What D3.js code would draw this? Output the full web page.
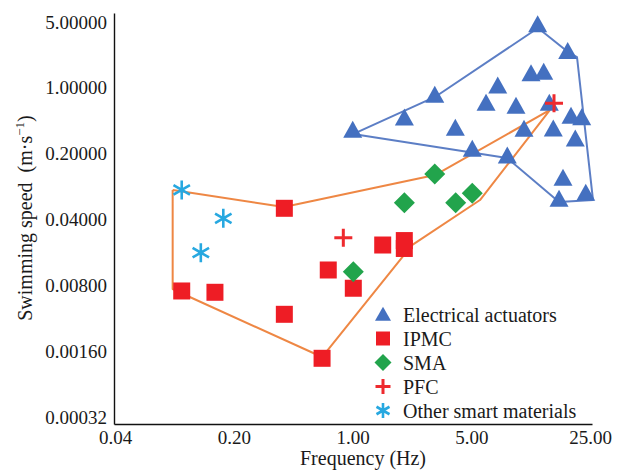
<!DOCTYPE html>
<html><head><meta charset="utf-8">
<script src="https://cdn.jsdelivr.net/npm/d3@7"></script>
<style>
body{margin:0;background:#fff}
svg{display:block}
</style>
</head><body>
<svg id="chart" width="619" height="474"></svg>
<script>
// ---- data ----
const xTicks = [0.04, 0.2, 1, 5, 25];
const xTickLabels = ["0.04", "0.20", "1.00", "5.00", "25.00"];
const yTicks = [5, 1, 0.2, 0.04, 0.008, 0.0016, 0.00032];
const yTickLabels = ["5.00000", "1.00000", "0.20000", "0.04000", "0.00800", "0.00160", "0.00032"];

const seriesNames = ["Electrical actuators", "IPMC", "SMA", "PFC", "Other smart materials"];

const elecFreq  = [12.30, 18.48, 11.24, 13.35, 7.16, 3.05, 6.11, 9.17, 14.40, 2.02, 1.003, 4.03, 10.22, 15.2, 19.33, 22.34, 20.48, 5.07, 8.15, 17.34, 23.6, 16.43];
const elecSpeed = [4.46, 2.33, 1.35, 1.40, 1.00, 0.80, 0.657, 0.611, 0.657, 0.456, 0.340, 0.357, 0.348, 0.35, 0.478, 0.459, 0.273, 0.213, 0.181, 0.105, 0.0728, 0.0629];

const ipmcFreq  = [0.397, 0.0988, 0.155, 0.397, 0.662, 1.506, 2.018, 2.018, 0.720, 1.011];
const ipmcSpeed = [0.0526, 0.00697, 0.00675, 0.00394, 0.001344, 0.02144, 0.0239, 0.0197, 0.01164, 0.00745];

const smaFreq  = [1.011, 3.05, 2.02, 4.05, 5.07];
const smaSpeed = [0.01117, 0.1217, 0.0603, 0.0603, 0.0759];

const pfcFreq  = [15.35, 0.883];
const pfcSpeed = [0.685, 0.0256];

const otherFreq  = [0.0988, 0.1736, 0.128];
const otherSpeed = [0.0823, 0.0412, 0.01776];

// envelope outlines
const blueHullFreq  = [1.007, 3.06, 12.36, 18.56, 20.96, 26.04, 16.43, 8.12, 1.007];
const blueHullSpeed = [0.323, 0.80, 4.32, 2.40, 2.125, 0.0644, 0.0614, 0.180, 0.323];

const orangeHullFreq  = [0.0874, 0.395, 3.06, 14.54, 5.63, 2.24, 0.662, 0.0978, 0.0874, 0.0874];
const orangeHullSpeed = [0.0823, 0.0543, 0.1187, 0.582, 0.0644, 0.0214, 0.001387, 0.00663, 0.00731, 0.0823];

// ---- scales ----
const xBase = d3.scaleLog().domain([0.04, 25]).range([115, 590]);
const x = xBase.copy().domain([xBase.invert(114), xBase.invert(592)]).range([114, 592]);
const yBase = d3.scaleLog().domain([0.00032, 5]).range([417, 22]);
const y = yBase.copy().domain([yBase.invert(424), yBase.invert(13)]).range([424, 13]);

const FONT = "'Liberation Serif', Tinos, 'Times New Roman', Times, 'DejaVu Serif', serif";
const svg = d3.select("#chart");

const C = {
  blue: "#4470c0", red: "#ee1d25", green: "#22a44c", pfc: "#ee2a2e",
  cyan: "#27a8e0", orange: "#ec7a30", blueLine: "#4a70bf"
};

// ---- envelope lines ----
const line = d3.line().x(d => x(d[0])).y(d => y(d[1]));
svg.append("path")
  .attr("d", line(blueHullFreq.map((f, i) => [f, blueHullSpeed[i]])))
  .attr("fill", "none").attr("stroke", C.blueLine).attr("stroke-width", 2).attr("stroke-opacity", 0.9)
  .attr("stroke-linejoin", "round");
svg.append("path")
  .attr("d", line(orangeHullFreq.map((f, i) => [f, orangeHullSpeed[i]])))
  .attr("fill", "none").attr("stroke", C.orange).attr("stroke-width", 2).attr("stroke-opacity", 0.9)
  .attr("stroke-linejoin", "round");

// ---- axes ----
const gx = svg.append("g").attr("transform", "translate(0,424)")
  .call(d3.axisBottom(x).tickValues(xTicks).tickFormat((d, i) => xTickLabels[i]).tickSize(0).tickSizeOuter(0).tickPadding(7));
const gy = svg.append("g").attr("transform", "translate(114,0)")
  .call(d3.axisLeft(y).tickValues(yTicks).tickFormat((d, i) => yTickLabels[i]).tickSize(0).tickSizeOuter(0).tickPadding(7));
[gx, gy].forEach(g => {
  g.attr("font-family", FONT).attr("font-size", 19);
  g.select(".domain").attr("stroke", "#111").attr("stroke-width", 1.4);
  g.selectAll("text").attr("fill", "#1a1a1a").attr("font-family", FONT).attr("font-size", 19);
});

// axis titles
svg.append("text").attr("x", 363).attr("y", 465).attr("text-anchor", "middle")
  .attr("font-family", FONT).attr("font-size", 20).attr("fill", "#1a1a1a").text("Frequency (Hz)");
const yt = svg.append("text").attr("transform", "translate(32,218) rotate(-90)")
  .attr("text-anchor", "middle").attr("font-family", FONT).attr("font-size", 20).attr("fill", "#1a1a1a");
yt.append("tspan").text("Swimming speed\u00a0\u00a0(m\u00b7s");
yt.append("tspan").attr("dy", -8).attr("font-size", 13).text("\u22121");
yt.append("tspan").attr("dy", 8).text(")");

// ---- marker shapes ----
function tri(w, h) { return `M0,${-2*h/3}L${w/2},${h/3}L${-w/2},${h/3}Z`; }
function sq(s) { return `M${-s/2},${-s/2}h${s}v${s}h${-s}Z`; }
function dia(r) { return `M0,${-r}L${r},0L0,${r}L${-r},0Z`; }
function plus(r) { return `M${-r},0H${r}M0,${-r}V${r}`; }
function star(r) {
  const a = Math.PI / 6, c = Math.cos(a) * r, s = Math.sin(a) * r;
  return `M0,${-r}V${r}M${-c},${-s}L${c},${s}M${-c},${s}L${c},${-s}`;
}

function drawSeries(fx, fy, d, fill, stroke, sw) {
  svg.append("g").selectAll("path").data(fx.map((f, i) => [f, fy[i]])).join("path")
    .attr("transform", p => `translate(${x(p[0])},${y(p[1])})`)
    .attr("d", d)
    .attr("fill", fill).attr("stroke", stroke || "none").attr("stroke-width", sw || 0);
}

drawSeries(elecFreq, elecSpeed, tri(19, 17), C.blue);
drawSeries(ipmcFreq, ipmcSpeed, sq(17), C.red);
drawSeries(smaFreq, smaSpeed, dia(10.5), C.green);
drawSeries(pfcFreq, pfcSpeed, plus(9), "none", C.pfc, 3);
drawSeries(otherFreq, otherSpeed, star(9.5), "none", C.cyan, 2.6);

// ---- legend ----
const legShapes = [
  {d: tri(16, 14), fill: C.blue},
  {d: sq(14), fill: C.red},
  {d: dia(8.5), fill: C.green},
  {d: plus(7.5), fill: "none", stroke: C.pfc, sw: 3},
  {d: star(7.5), fill: "none", stroke: C.cyan, sw: 2.6}
];
const leg = svg.append("g");
seriesNames.forEach((name, i) => {
  const cy = 314.5 + i * 24;
  const s = legShapes[i];
  leg.append("path").attr("transform", `translate(383,${cy + (i === 0 ? 1.5 : 0)})`).attr("d", s.d)
    .attr("fill", s.fill).attr("stroke", s.stroke || "none").attr("stroke-width", s.sw || 0);
  leg.append("text").attr("x", 403).attr("y", cy).attr("dy", "0.35em")
    .attr("font-family", FONT).attr("font-size", 20).attr("fill", "#1a1a1a").text(name);
});
</script>
</body></html>
